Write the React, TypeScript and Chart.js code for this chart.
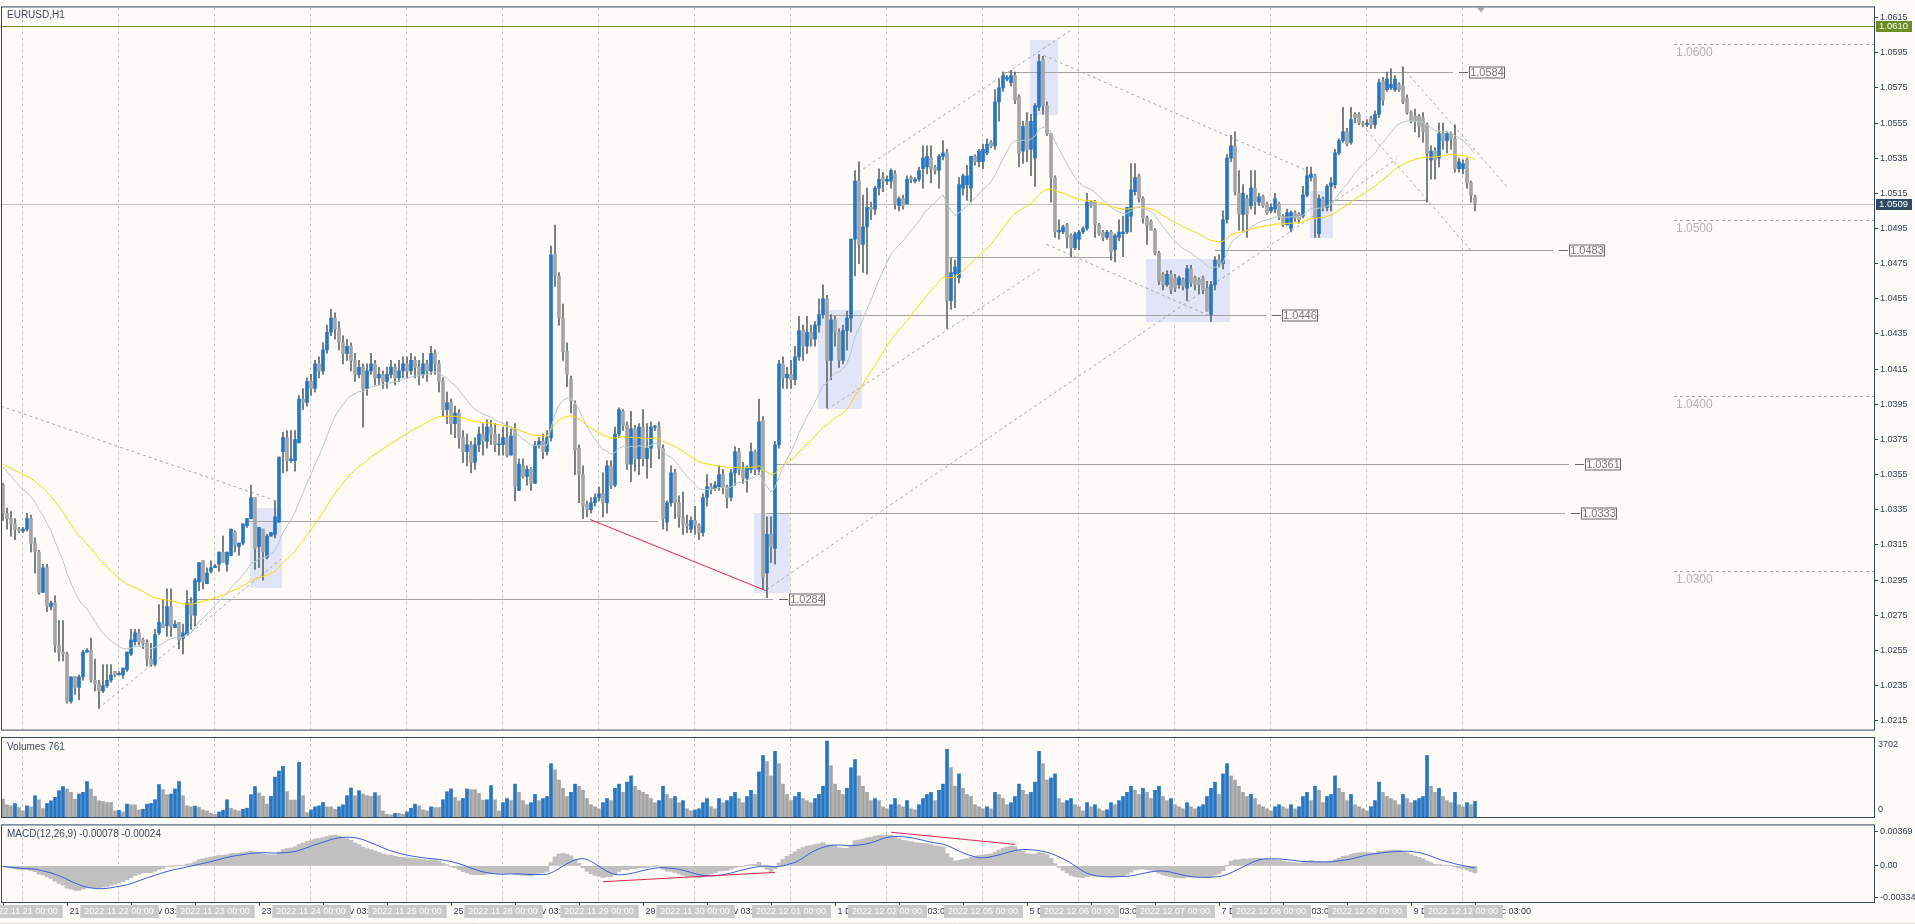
import React, { useEffect, useRef } from 'react';
import { Chart, registerables } from 'chart.js';
Chart.register(...registerables);

const W = 1915;
const H = 924;
const FONT = '"Liberation Sans", Arial, Helvetica, sans-serif';
const BG = '#fdfaf8';
const AXIS = '#2f4a62';
const TXT = '#2f4257';
const BULL = '#2676c4';
const BEAR = '#a5a5a5';
const WICK = '#5b6a6c';

const symbolTitle = 'EURUSD,H1';
const volumesTitle = 'Volumes';
const macdTitle = 'MACD(12,26,9) -0.00078 -0.00024';

// ---- H1 candles, prices in pips above 1.0000 ----
const opens = [
349,333,330,327,324,323,324,330,316,311, 288,302,280,282,258,254,253,226,240,234,
240,254,255,238,236,232,235,238,243,241, 241,244,253,260,265,261,259,250,247,265,
270,269,280,268,271,262,264,282,275,294, 306,293,300,302,304,311,304,309,322,314,
316,326,330,342,314,324,308,320,321,328, 368,376,363,363,373,
398,396,408,404,418,414,426,436,444,438, 430,424,428,420,412,416,404,414,418,410,
412,408,412,416,410,414,418,414,420,416, 412,418,414,424,418,408,392,396,384,390,
376,368,372,362,372,378,374,382,378,372,
372,376,366,381,346,360,354,358,350,372, 374,368,376,480,468,444,425,409,395,370,
355,338,335,339,342,344,339,360,349,378, 391,383,361,381,364,382,364,370,382,382,
370,328,339,356,339,331,327,324,329,326, 322,342,348,347,348,355,348,342,356,368,
358,353,358,368,358,386,299,321,313,
372,418,410,412,409,422,437,428,436,432, 440,446,455,420,443,436,420,437,444,489,
522,486,496,507,506,518,524,522,522,526, 508,512,509,524,522,523,529,530,535,530,
528,536,538,454,469,467,518,520,518,536, 533,533,538,544,542,567,575,580,578,582,
570,539,556,540,535,564,591,565,549,524, 493,493,497,491,484,489,493,495,510,510,
497,493,490,493,483,490,492,493,502,516, 525,512,501,
499,494,481,469,463,469,467,463,466,461, 472,467,466,467,461,446,463,477,475,500,
535,542,515,503,512,508,518,510,513,509, 505,506,509,502,497,495,504,503,502,514,
524,525,492,512,507,519,520,538,545,550, 544,560,560,555,554,558,554,560,579,574,
575,574,577,576,569,561,559,559,558,554, 534,539,535,549,545,549,546,529,529,534,
521,513
];
const highs = [
350,336,334,330,325,325,333,332,319,312, 304,304,283,286,272,272,254,240,240,241,
255,256,262,250,238,247,247,247,243,243, 245,254,267,267,267,262,261,259,267,281,
284,290,290,272,271,270,289,285,296,305, 306,302,306,304,311,320,311,324,323,316,
327,330,349,342,325,324,321,322,340,365, 379,380,380,380,400,
404,410,412,420,422,430,440,449,447,442, 434,432,430,424,420,418,418,424,420,416,
414,416,420,418,420,422,422,424,422,420, 424,420,428,426,420,410,402,398,394,392,
380,378,374,376,382,384,386,386,384,378,
382,385,381,384,364,364,360,359,374,376, 378,380,485,497,470,452,430,411,397,372,
360,340,342,344,348,356,363,363,382,393, 392,385,391,383,384,392,384,385,383,385,
372,340,360,358,343,345,332,331,337,327, 344,355,350,351,360,358,349,358,371,370,
362,360,373,369,398,388,331,331,374,
420,422,416,420,428,445,440,445,440,442, 455,463,457,446,445,438,440,448,489,528,
533,514,518,510,519,529,527,525,529,528, 513,514,525,525,524,530,542,542,542,531,
537,545,540,478,477,524,526,531,536,537, 540,543,546,545,574,580,584,582,585,584,
571,556,561,560,566,594,593,567,549,525, 500,497,498,492,493,494,496,515,511,511,
498,494,494,494,492,500,502,507,532,532, 526,513,502,
500,495,482,470,471,471,469,468,467,474, 474,468,467,468,465,465,479,480,505,537,
548,550,528,520,514,528,528,515,514,510, 509,515,510,503,506,505,505,504,519,530,
530,526,514,513,520,524,540,546,564,552, 564,561,561,556,557,559,562,580,581,584,
586,582,578,587,571,562,563,560,561,555, 542,541,555,555,550,550,554,535,534,535,
522,514
];
const lows = [
329,324,320,318,322,322,323,311,299,287, 288,277,278,254,249,249,225,225,230,227,
238,254,237,232,222,231,234,237,240,241, 239,243,252,258,258,256,246,246,246,264,
268,263,263,268,256,253,264,267,269,289, 290,293,299,302,300,305,300,309,311,309,
315,325,330,301,302,295,307,320,319,328, 356,357,362,357,373,
392,394,400,402,410,412,424,434,432,426, 418,420,414,408,410,382,400,412,406,406,
404,404,410,406,408,410,410,412,410,406, 410,408,412,412,402,388,384,378,376,370,
362,360,356,358,368,366,370,372,368,366,
366,365,366,340,346,353,349,346,350,370, 364,366,374,462,440,420,405,390,355,339,
330,331,333,337,340,331,333,347,348,376, 380,358,351,357,355,360,353,359,380,364,
324,323,337,330,325,321,322,322,321,318, 320,337,344,346,346,344,336,340,349,355,
350,345,356,355,355,290,285,305,304,
370,404,404,404,406,420,420,424,428,428, 436,444,393,409,428,416,418,426,436,468,
475,470,469,500,503,514,516,520,518,506, 505,506,509,521,521,522,518,526,521,526,
518,534,438,449,450,464,514,511,510,531, 530,529,537,541,540,556,573,579,576,566,
530,532,533,525,519,562,560,548,510,490, 489,492,484,479,483,483,492,494,507,490,
491,488,489,477,476,488,479,492,493,514, 510,498,486,
494,480,463,460,462,458,459,461,460,454, 462,460,458,458,448,442,460,473,472,498,
533,514,494,493,490,506,503,508,507,503, 504,504,500,496,497,493,499,498,501,513,
522,490,490,505,505,505,518,537,544,542, 543,555,554,553,553,552,552,558,565,573,
574,573,573,566,560,555,550,547,544,510, 523,523,530,540,538,540,527,527,526,518,
510,505
];
const closes = [
333,330,327,324,323,324,330,316,311,288, 302,280,282,258,254,253,226,240,234,240,
254,255,238,236,232,235,238,241,241,242, 245,254,261,265,260,259,250,247,264,271,
268,280,269,270,261,265,282,275,295,305, 294,299,302,303,311,305,311,324,315,316,
327,330,342,313,325,311,320,322,331,365, 376,363,364,375,398,
396,408,404,418,414,426,436,444,438,430, 424,428,420,412,416,404,414,418,410,412,
408,412,416,410,414,418,414,420,416,412, 418,414,424,418,408,392,396,384,390,376,
368,372,362,372,378,374,382,378,372,372,
376,366,377,348,361,354,358,350,372,374, 368,376,480,468,444,425,412,397,369,355,
337,335,339,342,344,339,360,349,378,392, 383,361,381,364,382,364,370,382,382,370,
330,339,356,339,331,327,326,329,326,322, 342,348,347,349,355,348,342,356,368,358,
353,359,368,358,385,297,321,314,372,
418,410,412,409,422,437,428,436,432,440, 446,455,420,443,436,420,437,444,489,522,
486,496,507,506,518,523,522,523,528,509, 512,508,523,523,523,528,535,536,529,528,
536,538,454,470,473,520,525,525,536,533, 539,540,543,542,567,575,582,581,582,568,
538,553,540,556,565,590,565,549,524,493, 494,496,490,484,492,493,495,510,508,497,
492,490,493,482,491,493,493,507,517,524, 512,501,497,
494,481,465,463,469,460,461,467,462,472, 464,463,463,460,448,463,477,475,500,535,
542,516,503,515,503,518,510,513,508,504, 507,512,502,497,504,504,501,500,514,525,
526,501,512,507,519,521,538,545,550,543, 557,558,555,554,555,554,560,578,568,580,
577,580,574,567,561,556,556,553,550,538, 539,534,549,545,549,546,529,533,532,521,
514,509
];
const volumes = [
873,593,544,659,461,296,544,494,1038,840, 412,659,790,955,1285,1482,1367,1202,873,1120,
1202,1729,1367,1005,790,758,708,708,296,329, 247,626,593,593,346,379,626,659,840,1581,
1334,1087,1120,1367,1729,1038,544,494,527,461, 346,296,181,132,247,329,840,428,346,296,
379,428,1087,1482,1169,1005,626,1005,1943,2240, 2470,1235,824,824,2668,1038,214,346,494,544,
708,494,494,379,494,593,1038,1416,1038,1285, 1120,1038,1005,1186,1038,296,132,99,181,181,
132,247,428,626,544,346,296,494,461,461, 840,1235,1367,955,790,906,1367,1334,1334,1153,
824,840,1532,840,296,
700,900,800,1600,1200,800,600,700,1100,800, 900,1000,2600,2300,1800,1400,1000,1200,1600,1500,
1300,900,600,500,400,700,900,800,1400,1600, 1200,1700,2000,1500,1300,1200,1100,900,700,800,
1500,1100,900,1000,700,800,400,300,350,400, 700,900,500,400,900,700,800,1000,1200,900,
700,1000,1300,1100,2200,3000,2700,2000,3200,2600, 1600,1100,800,1000,1200,900,800,700,900,1100,
1500,3702,2500,1600,1300,1100,1400,2400,2800,2000, 1500,1200,800,900,800,500,400,600,900,600,
500,800,400,350,600,900,1100,1200,800,1300, 1600,3300,2400,1500,2100,1400,1100,1000,600,500,
400,500,400,1200,1100,900,600,700,1000,1600, 1300,1100,1200,1700,3200,2600,1800,1900,2100,900,
700,800,900,600,500,300,700,500,600,400, 300,350,700,600,800,1000,1200,1500,1300,1100,
1400,1200,900,1300,1500,1000,800,900,600,500, 400,700,500,400,500,600,1000,1400,1700,1100,
2100,2600,2000,1800,1500,1200,1000,1100,900,600, 500,400,300,500,600,500,400,600,400,500,
1000,1200,800,1500,1300,700,1000,1100,2000,1400, 1200,800,1100,600,500,400,300,500,800,1700,
1200,1000,900,800,600,1100,900,700,800,900, 1000,3000,1500,1200,1400,1000,800,700,1200,600,
500,700,600,761
];

// ---- time axis ----
const dayLabels = [
  '2022.11.21 00:00', '2022.11.22 00:00', '2022.11.23 00:00', '2022.11.24 00:00', '2022.11.25 00:00',
  '2022.11.28 00:00', '2022.11.29 00:00', '2022.11.30 00:00', '2022.12.01 00:00', '2022.12.02 00:00',
  '2022.12.05 00:00', '2022.12.06 00:00', '2022.12.07 00:00', '2022.12.08 00:00', '2022.12.09 00:00',
  '2022.12.12 00:00'
];
const firstDayBar = 5;
const barsPerDay = 24;
const timeTickStep = 16;
const timeTickLabels = [
  '18 Nov 19:00', '21 Nov 11:00', '22 Nov 03:00', '22 Nov 19:00', '23 Nov 11:00', '24 Nov 03:00',
  '24 Nov 19:00', '25 Nov 11:00', '28 Nov 03:00', '28 Nov 19:00', '29 Nov 11:00', '30 Nov 03:00',
  '30 Nov 19:00', '1 Dec 11:00', '2 Dec 03:00', '2 Dec 19:00', '5 Dec 11:00', '6 Dec 03:00',
  '6 Dec 19:00', '7 Dec 11:00', '8 Dec 03:00', '8 Dec 19:00', '9 Dec 11:00', '12 Dec 03:00'
];

// ---- price axis ----
const priceTicks = [
  1.0215, 1.0235, 1.0255, 1.0275, 1.0295, 1.0315, 1.0335, 1.0355, 1.0375, 1.0395, 1.0415,
  1.0435, 1.0455, 1.0475, 1.0495, 1.0515, 1.0535, 1.0555, 1.0575, 1.0595, 1.0615
];
const roundLevels = [1.06, 1.05, 1.04, 1.03];
const roundLevelFromBar = 417.75;
const currentPrice = 1.0509;
const alertPrice = 1.061;
const macdTicks = [0.00369, 0, -0.00334];
const macdTickLabels = ['0.00369', '0.00', '-0.00334'];

const maFastPeriod = 21;
const maSlowPeriod = 55;
const maSeed = 362;
const macdSeed = 342;

// ---- drawn objects, in (bar index, pips) ----
const boxes = [
  { b0: 61.75, b1: 69.7, p0: 290.5, p1: 336 },
  { b0: 203.75, b1: 214.7, p0: 392.5, p1: 448.6 },
  { b0: 187.75, b1: 196.7, p0: 287.4, p1: 333 },
  { b0: 256.75, b1: 263.7, p0: 559.8, p1: 602.3 },
  { b0: 285.7, b1: 306.75, p0: 442, p1: 477.6 },
  { b0: 326.75, b1: 332.6, p0: 489.7, p1: 516.3 }
];
const dashedLines = [
  { b0: -0.5, p0: 394, b1: 68.4, p1: 340 },
  { b0: 23.8, p0: 222, b1: 69.5, p1: 307 },
  { b0: 190.9, p0: 289.6, b1: 348.4, p1: 534.5 },
  { b0: 213.8, p0: 527, b1: 266.75, p1: 607.5 },
  { b0: 206, p0: 392, b1: 259.7, p1: 472.8 },
  { b0: 260.1, p0: 593.5, b1: 325.9, p1: 528 },
  { b0: 260.9, p0: 486, b1: 302, p1: 445 },
  { b0: 349.7, p0: 587, b1: 376.3, p1: 518 },
  { b0: 340.9, p0: 551, b1: 367.2, p1: 482 }
];
const solidLines = [
  { b0: 60.5, b1: 163.75, p: 328.4 },
  { b0: 236, b1: 277.5, p: 479 },
  { b0: 327.5, b1: 356.25, p: 511 }
];
const priceMarks = [
  { from: 45.9, anchor: 196.6, level: 284 },
  { from: 190.75, anchor: 394.6, level: 333 },
  { from: 192.5, anchor: 395.6, level: 361 },
  { from: 206.25, anchor: 319.7, level: 446 },
  { from: 303, anchor: 391.6, level: 483 },
  { from: 249.7, anchor: 366.6, level: 584 }
];
const redLines = [{ b0: 146.75, p0: 329.5, b1: 190.7, p1: 289 }];
const macdRedLines = [
  { b0: 150, v0: -0.0017, b1: 193, v1: -0.0007 },
  { b0: 222, v0: 0.0036, b1: 253, v1: 0.0023 }
];
const shiftMarkerBar = 369.5;

// ---- derived ----
const N = closes.length;
const idx = Array.from({ length: N }, (_, i) => i);
const px = (p: number) => 1 + p / 10000;
const ema = (src: number[], n: number, seed: number) => {
  const k = 2 / (n + 1);
  let e = seed;
  return src.map((v) => (e = e + k * (v - e)));
};
const maFast = ema(closes, maFastPeriod, maSeed);
const maSlow = ema(closes, maSlowPeriod, maSeed);
const e12 = ema(closes, 12, macdSeed);
const e26 = ema(closes, 26, macdSeed);
const macdMain = e12.map((v, i) => (v - e26[i]) / 10000);
const macdSignal = macdMain.map((_, i) => {
  const w = macdMain.slice(Math.max(0, i - 8), i + 1);
  return w.reduce((a, b) => a + b, 0) / w.length;
});
const maxVol = Math.max(...volumes);

const X_MIN = -0.25;
const X_MAX = 467.75;
const xScale = { type: 'linear', min: X_MIN, max: X_MAX, display: false, offset: false };

function dayGrid(ctx: any, a: any, x: any) {
  ctx.save();
  ctx.strokeStyle = '#c9c9c9';
  ctx.lineWidth = 1;
  ctx.setLineDash([3, 3]);
  for (let k = 0; k < dayLabels.length; k++) {
    const gx = Math.round(x.getPixelForValue(firstDayBar + k * barsPerDay - 0.25)) + 0.5;
    ctx.beginPath();
    ctx.moveTo(gx, a.top);
    ctx.lineTo(gx, a.bottom);
    ctx.stroke();
  }
  ctx.restore();
}
function border(ctx: any, a: any) {
  ctx.save();
  ctx.strokeStyle = AXIS;
  ctx.lineWidth = 1;
  ctx.setLineDash([]);
  ctx.strokeRect(a.left - 0.5, a.top - 0.5, a.right - a.left + 1, a.bottom - a.top + 1);
  ctx.restore();
}

const mainPlugin = {
  id: 'mainDecor',
  beforeDatasetsDraw(chart: any) {
    const { ctx, chartArea: a, scales } = chart;
    const X = (b: number) => scales.x.getPixelForValue(b);
    const Y = (p: number) => scales.y.getPixelForValue(px(p));
    ctx.save();
    ctx.beginPath();
    ctx.rect(a.left, a.top, a.right - a.left, a.bottom - a.top);
    ctx.clip();
    dayGrid(ctx, a, scales.x);
    ctx.fillStyle = '#e2e5f8';
    boxes.forEach((b) => {
      const x0 = Math.round(X(b.b0)), x1 = Math.round(X(b.b1));
      const y0 = Math.round(Y(b.p1)), y1 = Math.round(Y(b.p0));
      ctx.fillRect(x0, y0, x1 - x0, y1 - y0);
    });
    ctx.font = `12px ${FONT}`;
    ctx.textBaseline = 'middle';
    ctx.textAlign = 'left';
    roundLevels.forEach((lv) => {
      const yy = Math.round(scales.y.getPixelForValue(lv)) + 0.5;
      const x0 = X(roundLevelFromBar);
      ctx.strokeStyle = '#a8a8a8';
      ctx.setLineDash([3, 3]);
      ctx.beginPath();
      ctx.moveTo(x0, yy);
      ctx.lineTo(a.right, yy);
      ctx.stroke();
      ctx.setLineDash([]);
      ctx.fillStyle = '#b3b3b3';
      ctx.fillText(lv.toFixed(4), x0 + 2, yy + 8);
    });
    ctx.setLineDash([]);
    ctx.lineWidth = 1;
    let yy = Math.round(scales.y.getPixelForValue(currentPrice)) + 0.5;
    ctx.strokeStyle = '#c2c2c2';
    ctx.beginPath(); ctx.moveTo(a.left, yy); ctx.lineTo(a.right, yy); ctx.stroke();
    yy = Math.round(scales.y.getPixelForValue(alertPrice)) + 0.5;
    ctx.strokeStyle = '#6b8e23';
    ctx.beginPath(); ctx.moveTo(a.left, yy); ctx.lineTo(a.right, yy); ctx.stroke();
    ctx.strokeStyle = '#a9a9a9';
    ctx.setLineDash([3, 3]);
    dashedLines.forEach((l) => {
      ctx.beginPath(); ctx.moveTo(X(l.b0), Y(l.p0)); ctx.lineTo(X(l.b1), Y(l.p1)); ctx.stroke();
    });
    ctx.setLineDash([]);
    ctx.strokeStyle = '#a3a3a3';
    solidLines.forEach((l) => {
      const y2 = Math.round(Y(l.p)) + 0.5;
      ctx.beginPath(); ctx.moveTo(X(l.b0), y2); ctx.lineTo(X(l.b1), y2); ctx.stroke();
    });
    priceMarks.forEach((m) => {
      const y2 = Math.round(Y(m.level)) + 0.5;
      ctx.beginPath(); ctx.moveTo(X(m.from), y2); ctx.lineTo(Math.round(X(m.anchor)) - 16, y2); ctx.stroke();
    });
    ctx.restore();
  },
  afterDatasetsDraw(chart: any) {
    const { ctx, chartArea: a, scales } = chart;
    const X = (b: number) => scales.x.getPixelForValue(b);
    const Y = (p: number) => scales.y.getPixelForValue(px(p));
    ctx.save();
    ctx.beginPath();
    ctx.rect(a.left, a.top, a.right - a.left, a.bottom - a.top);
    ctx.clip();
    ctx.strokeStyle = '#e3244f';
    ctx.lineWidth = 1;
    redLines.forEach((l) => {
      ctx.beginPath(); ctx.moveTo(X(l.b0), Y(l.p0)); ctx.lineTo(X(l.b1), Y(l.p1)); ctx.stroke();
    });
    ctx.font = `11px ${FONT}`;
    ctx.textBaseline = 'middle';
    ctx.textAlign = 'center';
    priceMarks.forEach((m) => {
      const y2 = Math.round(Y(m.level)) + 0.5;
      const ax = Math.round(X(m.anchor));
      ctx.strokeStyle = '#666';
      ctx.beginPath(); ctx.moveTo(ax - 10, y2); ctx.lineTo(ax - 1, y2); ctx.stroke();
      ctx.fillStyle = BG;
      ctx.fillRect(ax, y2 - 6, 36, 12);
      ctx.strokeRect(ax + 0.5, y2 - 5.5, 35, 11);
      ctx.fillStyle = '#777';
      ctx.fillText(px(m.level).toFixed(4), ax + 18, y2 + 0.5);
    });
    ctx.font = `10px ${FONT}`;
    ctx.textAlign = 'left';
    ctx.fillStyle = '#3a4a5c';
    ctx.fillText(symbolTitle, a.left + 5, a.top + 8);
    const mx = X(shiftMarkerBar);
    ctx.fillStyle = '#a9a9a9';
    ctx.beginPath(); ctx.moveTo(mx - 4, a.top); ctx.lineTo(mx + 4, a.top); ctx.lineTo(mx, a.top + 5); ctx.closePath(); ctx.fill();
    ctx.restore();
  },
  afterDraw(chart: any) {
    const { ctx, chartArea: a, scales } = chart;
    border(ctx, a);
    ctx.save();
    ctx.font = `9.5px ${FONT}`;
    ctx.textBaseline = 'middle';
    ctx.textAlign = 'left';
    const tag = (price: number, bg: string) => {
      const yy = Math.round(scales.y.getPixelForValue(price));
      ctx.fillStyle = bg;
      ctx.fillRect(a.right + 2, yy - 5, 36, 11);
      ctx.fillStyle = '#ffffff';
      ctx.fillText(price.toFixed(4), a.right + 5, yy + 0.5);
    };
    tag(alertPrice, '#6b8e23');
    tag(currentPrice, '#2f4b63');
    ctx.restore();
  }
};

const volPlugin = {
  id: 'volDecor',
  beforeDatasetsDraw(chart: any) {
    dayGrid(chart.ctx, chart.chartArea, chart.scales.x);
  },
  afterDraw(chart: any) {
    const { ctx, chartArea: a } = chart;
    border(ctx, a);
    ctx.save();
    ctx.font = `10px ${FONT}`;
    ctx.textBaseline = 'middle';
    ctx.textAlign = 'left';
    ctx.fillStyle = '#3a4a5c';
    ctx.fillText(`${volumesTitle} ${volumes[N - 1]}`, a.left + 5, a.top + 9);
    ctx.font = `9px ${FONT}`;
    ctx.fillStyle = TXT;
    ctx.fillText(String(maxVol), a.right + 4, a.top + 7);
    ctx.fillText('0', a.right + 4, a.bottom - 7);
    ctx.restore();
  }
};

const macdPlugin = {
  id: 'macdDecor',
  beforeDatasetsDraw(chart: any) {
    dayGrid(chart.ctx, chart.chartArea, chart.scales.x);
  },
  afterDatasetsDraw(chart: any) {
    const { ctx, chartArea: a, scales } = chart;
    ctx.save();
    ctx.beginPath();
    ctx.rect(a.left, a.top, a.right - a.left, a.bottom - a.top);
    ctx.clip();
    ctx.strokeStyle = '#e3244f';
    ctx.lineWidth = 1;
    macdRedLines.forEach((l) => {
      ctx.beginPath();
      ctx.moveTo(scales.x.getPixelForValue(l.b0), scales.y.getPixelForValue(l.v0));
      ctx.lineTo(scales.x.getPixelForValue(l.b1), scales.y.getPixelForValue(l.v1));
      ctx.stroke();
    });
    ctx.font = `10px ${FONT}`;
    ctx.textBaseline = 'middle';
    ctx.textAlign = 'left';
    ctx.fillStyle = '#3a4a5c';
    ctx.fillText(macdTitle, a.left + 5, a.top + 9);
    ctx.restore();
  },
  afterDraw(chart: any) {
    const { ctx, chartArea: a, scales } = chart;
    border(ctx, a);
    ctx.save();
    const x = scales.x;
    ctx.font = `9px ${FONT}`;
    ctx.textBaseline = 'middle';
    ctx.textAlign = 'left';
    const ly = a.bottom + 9.7;
    timeTickLabels.forEach((t, k) => {
      const tx = Math.round(x.getPixelForValue(k * timeTickStep)) + 0.5;
      ctx.strokeStyle = AXIS;
      ctx.beginPath(); ctx.moveTo(tx, a.bottom); ctx.lineTo(tx, a.bottom + 4); ctx.stroke();
      ctx.fillStyle = TXT;
      ctx.fillText(t, tx + 2, ly);
    });
    ctx.textAlign = 'center';
    dayLabels.forEach((d, k) => {
      const cx = Math.round(x.getPixelForValue(firstDayBar + k * barsPerDay - 0.25));
      const w = ctx.measureText(d).width + 8;
      ctx.fillStyle = '#c9c9c9';
      ctx.fillRect(cx - w / 2 + 1, a.bottom + 3, w + 1, 13);
      ctx.fillStyle = '#ffffff';
      ctx.fillText(d, cx + 1, ly);
    });
    ctx.strokeStyle = '#e0e0e0';
    ctx.beginPath(); ctx.moveTo(0, chart.height - 0.5); ctx.lineTo(chart.width, chart.height - 0.5); ctx.stroke();
    ctx.restore();
  }
};

const baseOptions = {
  animation: false,
  responsive: false,
  devicePixelRatio: 1,
  events: [],
  plugins: { legend: { display: false }, tooltip: { enabled: false } }
};

function mainConfig(): any {
  return {
    type: 'bar',
    data: {
      datasets: [
        {
          type: 'line', data: idx.map((i) => ({ x: i, y: px(maFast[i]) })), borderColor: '#b5caca',
          borderWidth: 1, pointRadius: 0, tension: 0, order: -2
        },
        {
          type: 'line', data: idx.map((i) => ({ x: i, y: px(maSlow[i]) })), borderColor: '#ffd500',
          borderWidth: 1, pointRadius: 0, tension: 0, order: -1
        },
        {
          type: 'bar', data: idx.map((i) => ({ x: i, y: [px(Math.min(opens[i], closes[i])), px(Math.max(opens[i], closes[i]))] })),
          backgroundColor: idx.map((i) => (closes[i] >= opens[i] ? BULL : BEAR)),
          barThickness: 3, grouped: false, minBarLength: 1, order: 0
        },
        {
          type: 'bar', data: idx.map((i) => ({ x: i, y: [px(lows[i]), px(highs[i])] })),
          backgroundColor: WICK, barThickness: 1, grouped: false, minBarLength: 1, order: 1
        }
      ]
    },
    options: {
      ...baseOptions,
      layout: { padding: { left: 2, top: 3, right: 0, bottom: 2 } },
      scales: {
        x: xScale,
        y: {
          type: 'linear', position: 'right', min: 1.020995, max: 1.062078,
          afterFit: (s: any) => { s.width = 41; },
          afterBuildTicks: (s: any) => { s.ticks = priceTicks.map((v) => ({ value: v })); },
          ticks: {
            autoSkip: false, color: TXT, padding: 2, font: { family: FONT, size: 9 },
            callback: (v: any) => Number(v).toFixed(4)
          },
          grid: { drawOnChartArea: false, drawTicks: true, tickLength: 4, color: AXIS },
          border: { display: true, color: AXIS }
        }
      }
    },
    plugins: [mainPlugin]
  };
}

function volConfig(): any {
  return {
    type: 'bar',
    data: {
      datasets: [
        {
          data: idx.map((i) => ({ x: i, y: volumes[i] })),
          backgroundColor: idx.map((i) => (i > 0 && volumes[i] > volumes[i - 1] ? BULL : BEAR)),
          barThickness: 3, grouped: false
        }
      ]
    },
    options: {
      ...baseOptions,
      layout: { padding: { left: 2, top: 1, right: 41, bottom: 1 } },
      scales: { x: xScale, y: { display: false, min: 0, max: maxVol * 1.04 } }
    },
    plugins: [volPlugin]
  };
}

function macdConfig(): any {
  return {
    type: 'bar',
    data: {
      datasets: [
        {
          type: 'line', data: idx.map((i) => ({ x: i, y: macdSignal[i] })), borderColor: '#3b62d8',
          borderWidth: 1, pointRadius: 0, tension: 0, order: -1
        },
        {
          type: 'bar', data: idx.map((i) => ({ x: i, y: macdMain[i] })), backgroundColor: '#c0c0c0',
          barThickness: 4, grouped: false, order: 0
        }
      ]
    },
    options: {
      ...baseOptions,
      layout: { padding: { left: 2, top: 2, right: 0, bottom: 22 } },
      scales: {
        x: xScale,
        y: {
          type: 'linear', position: 'right', min: -0.00387, max: 0.00433,
          afterFit: (s: any) => { s.width = 41; },
          afterBuildTicks: (s: any) => { s.ticks = macdTicks.map((v) => ({ value: v })); },
          ticks: {
            autoSkip: false, color: TXT, padding: 2, font: { family: FONT, size: 9 },
            callback: (_v: any, i: number) => macdTickLabels[i]
          },
          grid: { drawOnChartArea: false, drawTicks: true, tickLength: 4, color: AXIS },
          border: { display: true, color: AXIS }
        }
      }
    },
    plugins: [macdPlugin]
  };
}

export default function App() {
  const refA = useRef<HTMLCanvasElement>(null);
  const refB = useRef<HTMLCanvasElement>(null);
  const refC = useRef<HTMLCanvasElement>(null);
  useEffect(() => {
    document.body.style.margin = '0';
    document.body.style.background = BG;
    const charts = [
      new Chart(refA.current as HTMLCanvasElement, mainConfig()),
      new Chart(refB.current as HTMLCanvasElement, volConfig()),
      new Chart(refC.current as HTMLCanvasElement, macdConfig())
    ];
    return () => charts.forEach((c) => c.destroy());
  }, []);
  return (
    <div style={{ position: 'relative', width: W, height: H, background: BG, overflow: 'hidden' }}>
      <canvas ref={refA} width={W} height={737} style={{ position: 'absolute', left: 0, top: 0, width: W, height: 737 }} />
      <canvas ref={refB} width={W} height={81} style={{ position: 'absolute', left: 0, top: 737, width: W, height: 81 }} />
      <canvas ref={refC} width={W} height={106} style={{ position: 'absolute', left: 0, top: 818, width: W, height: 106 }} />
    </div>
  );
}
